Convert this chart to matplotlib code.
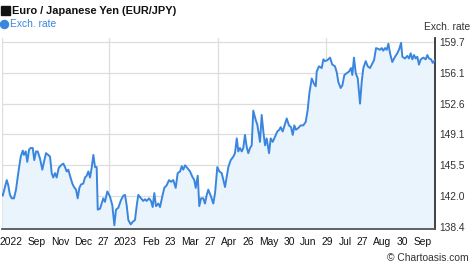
import matplotlib
matplotlib.use("Agg")
import matplotlib.pyplot as plt
from matplotlib.lines import Line2D
from matplotlib.patches import Rectangle

plt.rcParams["font.family"] = ["Liberation Sans", "DejaVu Sans"]

# ── Data: EUR/JPY, one year, x = days since 2022-10-01 ───────────────────────
days = [
    0, 0.6, 2.5, 4.0, 5.3, 6.7, 8.2, 10.1, 11.8, 13.7, 15.8, 17.5, 18.5, 20.0,
    21.3, 22.8, 24.2, 25.9, 27.2, 28.7, 30.1, 32.0, 34.0, 35.4, 37.1, 39.0,
    40.5, 41.9, 43.2, 44.7, 46.1, 47.8, 49.7, 51.7, 53.1, 54.5, 55.9, 57.3,
    59.3, 60.7, 62.4, 63.8, 65.2, 66.6, 68.5, 70.0, 71.4, 72.8, 74.2, 75.6,
    77.0, 78.4, 79.8, 80.7, 82.6, 84.0, 85.4, 86.8, 88.8, 91.0, 93.0, 94.7,
    96.1, 98.0, 100.3, 102.3, 103.7, 105.1, 106.5, 108.5, 110.2, 112.1, 113.6,
    114.9, 117.2, 119.1, 120.5, 122.0, 123.9, 125.6, 127.0, 128.4, 129.8,
    131.8, 133.2, 135.1, 136.8, 138.8, 140.8, 142.5, 144.4, 146.4, 148.1,
    150.1, 151.5, 152.8, 154.3, 156.2, 158.5, 160.4, 162.1, 163.3, 165.0,
    166.3, 167.8, 169.7, 171.1, 172.6, 173.9, 176.2, 178.1, 179.6, 181.5,
    183.2, 185.2, 188.0, 190.8, 192.8, 195.0, 196.4, 197.9, 199.2, 200.6,
    202.1, 203.4, 204.8, 206.3, 207.6, 209.1, 210.5, 211.8, 213.9, 215.2,
    217.5, 218.9, 220.3, 221.7, 223.1, 225.1, 226.5, 228.2, 230.1, 232.1,
    233.8, 234.9, 236.6, 238.6, 240.0, 241.9, 243.6, 245.1, 246.4, 247.8,
    249.8, 251.8, 254.0, 256.0, 257.7, 259.1, 261.1, 263.0, 264.5, 265.3,
    267.2, 269.5, 270.9, 272.3, 274.2, 276.5, 278.4, 280.7, 282.2, 283.5,
    285.5, 286.9, 288.6, 290.6, 292.5, 294.2, 295.3, 296.7, 298.2, 299.9,
    301.8, 303.2, 304.6, 306.6, 308.3, 310.2, 311.7, 313.6, 315.3, 317.2,
    318.7, 320.1, 321.4, 322.9, 324.3, 325.7, 327.1, 329.0, 331.3, 333.2,
    334.9, 336.4, 337.5, 339.7, 341.7, 343.1, 344.5, 345.9, 347.3, 348.7,
    350.1, 351.5, 353.0, 355.2, 357.2, 358.5, 360.0, 361.7, 363.1, 365.0,
]
rates = [
    142.1, 142.0, 143.0, 143.8, 143.2, 142.1, 141.7, 141.7, 142.7, 144.6,
    146.5, 147.2, 146.7, 147.1, 145.9, 147.3, 147.5, 147.5, 146.1, 147.1,
    147.1, 146.3, 145.0, 145.9, 146.9, 146.7, 146.5, 144.6, 144.1, 144.6,
    144.1, 145.2, 145.5, 145.7, 145.3, 144.8, 145.0, 144.3, 143.4, 143.0,
    142.7, 141.7, 142.9, 143.3, 143.4, 144.1, 144.3, 144.8, 144.1, 145.2,
    146.7, 145.3, 145.3, 140.4, 140.5, 141.1, 141.7, 141.3, 142.5, 141.9,
    140.9, 138.6, 140.4, 140.6, 141.5, 142.0, 142.1, 140.9, 139.2, 138.7,
    139.0, 139.2, 140.9, 142.1, 141.7, 141.4, 141.6, 141.4, 141.7, 141.4,
    140.7, 142.3, 140.8, 141.1, 140.7, 141.9, 142.9, 143.2, 143.8, 143.6,
    143.8, 142.9, 144.6, 144.8, 145.4, 145.0, 145.5, 145.2, 144.8, 144.2,
    143.8, 142.9, 144.3, 140.8, 141.7, 141.7, 141.1, 142.1, 142.7, 141.9,
    141.1, 142.3, 145.3, 144.8, 144.6, 143.0, 145.3, 146.1, 146.5, 146.9,
    148.6, 147.1, 147.5, 147.1, 147.5, 149.0, 147.6, 146.9, 147.5, 147.8,
    151.8, 150.7, 150.2, 148.2, 151.3, 149.4, 147.8, 148.6, 146.9, 148.6,
    148.2, 148.8, 149.4, 149.6, 149.9, 149.4, 150.3, 150.9, 150.1, 149.9,
    149.0, 150.1, 149.6, 149.8, 150.1, 150.1, 150.5, 151.9, 153.8, 155.5,
    154.9, 154.6, 156.3, 156.9, 156.7, 157.7, 157.5, 157.6, 157.9, 157.1,
    156.9, 156.2, 155.1, 154.4, 154.7, 155.9, 156.1, 156.3, 156.7, 155.9,
    157.9, 156.1, 155.5, 152.6, 155.1, 156.7, 157.5, 156.9, 156.7, 157.1,
    157.6, 159.0, 158.9, 158.8, 159.0, 158.7, 159.0, 158.8, 159.5, 158.4,
    157.4, 158.0, 158.4, 158.9, 159.6, 158.0, 157.8, 158.1, 157.8, 158.4,
    157.7, 158.2, 157.8, 158.0, 157.1, 157.7, 157.9, 157.7, 158.2, 157.8,
    157.7, 157.3, 157.6,
]

y_ticks = [138.4, 142.0, 145.5, 149.1, 152.6, 156.1, 159.7]

x_tick_days = [7.7, 29.2, 48.9, 68.5, 85.4, 104.1, 125.4, 142.1, 158.8, 175.5,
               191.4, 207.4, 224.7, 242.1, 258.3, 274.5, 289.1, 304.0, 320.8,
               337.7, 354.6]
x_tick_labels = ["2022", "Sep", "Nov", "Dec", "27", "2023", "Feb", "23", "Mar",
                 "27", "Apr", "26", "May", "30", "Jun", "29", "Jul", "27",
                 "Aug", "30", "Sep"]

quarter_days = [0, 90, 182, 273]

LINE = "#3a86de"
FILL = "#eaf4fd"
GRID = "#dddddd"
TEXT = "#333333"

# ── Figure ───────────────────────────────────────────────────────────────────
fig = plt.figure(figsize=(4.74, 2.69), dpi=100)
ax = fig.add_axes([2 / 474, 1 - 229 / 269, 433 / 474, 191 / 269])

ax.fill_between(days, rates, 130, color=FILL, lw=0, zorder=1)
ax.plot(days, rates, color=LINE, lw=1.4, zorder=3)

ax.set_xlim(0, 365)
ax.set_ylim(138.17, 160.16)

ax.yaxis.tick_right()
ax.set_yticks(y_ticks)
ax.set_yticklabels([f"{v:.1f}" for v in y_ticks])
ax.tick_params(axis="y", length=0, pad=3, labelsize=7.4, labelcolor=TEXT)

ax.set_xticks(x_tick_days)
ax.set_xticklabels(x_tick_labels)
ax.tick_params(axis="x", length=0, pad=6, labelsize=7.4, labelcolor="#111111")

for v in y_ticks:
    ax.axhline(v, color=GRID, lw=0.9, zorder=0)
for d in quarter_days:
    ax.axvline(d, color=GRID, lw=0.9, zorder=0)

for side in ("top", "left"):
    ax.spines[side].set_visible(False)
ax.spines["bottom"].set_color("#555555")
ax.spines["bottom"].set_linewidth(1.3)
ax.spines["right"].set_color("#333333")
ax.spines["right"].set_linewidth(1.3)

# ── Header texts ─────────────────────────────────────────────────────────────
fig.add_artist(Rectangle((0.5 / 474, 1 - 15 / 269), 9 / 474, 9 / 269,
                         color="#111111", transform=fig.transFigure))
fig.text(12.5 / 474, 1 - 10.5 / 269, "Euro / Japanese Yen (EUR/JPY)",
         fontsize=7.9, fontweight="bold", color="#111111", va="center", ha="left")

fig.add_artist(Line2D([4 / 474], [1 - 24 / 269], marker="o", markersize=5.8,
                      color=LINE, transform=fig.transFigure))
fig.text(10 / 474, 1 - 24 / 269, "Exch. rate", fontsize=7.4, color=LINE,
         va="center", ha="left")

fig.text(470 / 474, 1 - 26.5 / 269, "Exch. rate", fontsize=7.4, color=TEXT,
         va="center", ha="right")
fig.text(469 / 474, 1 - 258 / 269, "\u00a9 Chartoasis.com", fontsize=7.4,
         color=TEXT, va="center", ha="right")

fig.savefig("out.png", dpi=100)
